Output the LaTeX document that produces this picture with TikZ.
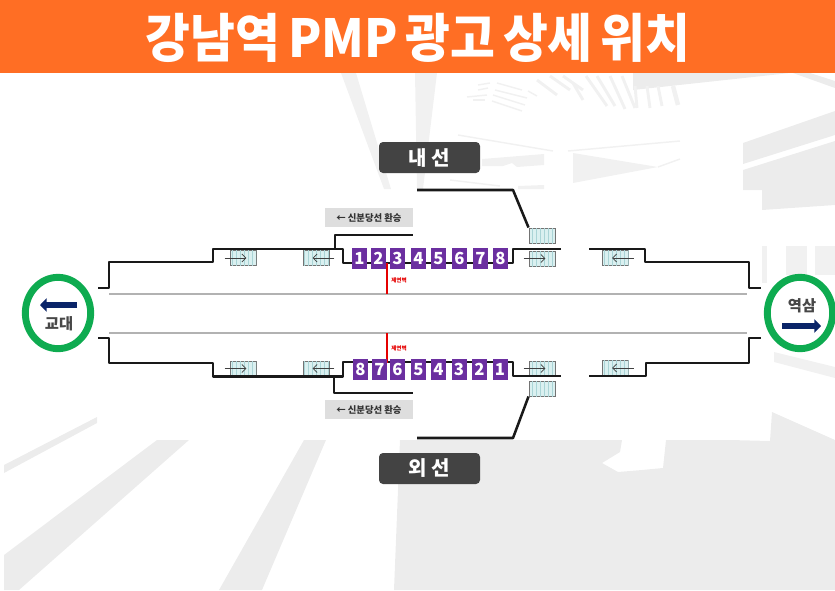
\documentclass[tikz,border=0pt]{standalone}
\usepackage{fontspec}
\setmainfont{Noto Sans CJK KR}
\newfontfamily\titlefont[FakeStretch=0.93,WordSpace=0.7]{Noto Sans CJK KR}
\usetikzlibrary{arrows.meta,patterns,shapes.geometric}

\definecolor{bandorange}{RGB}{255,110,36}
\definecolor{badgegrey}{RGB}{67,67,67}
\definecolor{labelgrey}{RGB}{222,222,222}
\definecolor{routepurple}{RGB}{107,47,160}
\definecolor{ringgreen}{RGB}{14,171,80}
\definecolor{arrownavy}{RGB}{10,36,104}
\definecolor{wmgrey}{RGB}{236,236,236}
\definecolor{wmlight}{RGB}{241,241,241}
\definecolor{esccyan}{RGB}{218,240,240}
\definecolor{escline}{RGB}{170,212,214}

\tikzset{
  wall/.style={line width=1.9pt,line join=round,black!90},
  track/.style={line width=0.9pt,black!30},
  redmark/.style={line width=1.5pt,red!90!black},
  redtext/.style={text=red!90!black,font=\bfseries\fontsize{4.2}{5}\selectfont,inner sep=0pt},
  escbox/.style={draw=black!55,line width=0.7pt,fill=esccyan,minimum width=19.5pt,minimum height=11.25pt,inner sep=0pt,
    postaction={pattern=vertical lines,pattern color=escline}},
  escarrow/.style={-{Straight Barb[length=3pt,width=6pt]},line width=0.6pt,black!75},
  spot/.style={fill=routepurple,text=white,minimum width=11.25pt,minimum height=15.75pt,inner sep=0pt,font=\bfseries\fontsize{12.5}{14}\selectfont},
  badge/.style={fill=badgegrey,text=white,rounded corners=3pt,minimum width=75.75pt,minimum height=23.25pt,inner sep=0pt,font=\bfseries\fontsize{15}{17}\selectfont},
  transfer/.style={fill=labelgrey,text=black!80,minimum width=66pt,minimum height=14.25pt,inner sep=0pt,font=\bfseries\fontsize{7}{8}\selectfont},
  ring/.style={draw=ringgreen,line width=5.2pt,fill=white,ellipse,minimum width=49pt,minimum height=53.5pt,inner sep=0pt},
  stationtext/.style={text=black!72,font=\bfseries\fontsize{11.5}{13}\selectfont,inner sep=0pt},
  navyarrow/.style={-{Triangle[length=5pt,width=10pt]},line width=4.5pt,arrownavy},
  wmstripe/.style={line width=2.2pt,wmlight},
  wmthin/.style={line width=1.1pt,wmlight},
}

\begin{document}
\begin{tikzpicture}[x=0.75pt,y=0.75pt,yscale=-1,xscale=1]
\useasboundingbox (0,0) rectangle (835,590);

%Watermark, lower part
\fill [wmgrey] (400,440) -- (622,440) -- (620,452) -- (602,463) -- (618,472) -- (642,470) -- (663,468) -- (666,440) -- (730,440) -- (770,441) -- (772,412) -- (835,440) -- (835,590) -- (394,590) -- cycle;
\fill [wmgrey] (304,440) -- (326,440) -- (262,590) -- (219,590) -- cycle;
\fill [wmgrey] (157,440) -- (189,440) -- (19,590) -- (4,590) -- (4,555) -- cycle;
\fill [wmgrey] (97,417) -- (97,423) -- (4,473) -- (4,465) -- cycle;
%Watermark, poles
\fill [wmlight] (341,73) -- (356,73) -- (391,189) -- (384,189) -- cycle;
\fill [wmlight] (415,73) -- (437,73) -- (423,189) -- (417,189) -- cycle;
%Watermark, right building
\fill [wmgrey] (743,143) -- (835,111) -- (835,135) -- (743,164) -- cycle;
\fill [wmgrey] (743,170) -- (835,141) -- (835,205) -- (762,210) -- (762,190) -- (743,190) -- cycle;
\fill [wmgrey] (633,73) -- (790,73) -- (633,90) -- cycle;
\fill [wmgrey] (793,73) -- (810,73) -- (835,81) -- (835,88) -- cycle;
%Watermark, roof
\draw [wmthin] (458,135) -- (553,151);
\draw [wmthin] (568,151) -- (680,141);
\draw [wmthin] (450,180) -- (500,186);
\draw [wmthin] (658,167) -- (680,159);
\fill [wmlight] (482,159) -- (544,154) -- (544,165) -- (517,167) -- (512,163) -- (503,166) -- (482,166) -- cycle;
\fill [wmlight] (573,153) -- (658,167) -- (573,183) -- cycle;
\fill [wmlight] (518,186) -- (544,185) -- (544,189) -- (518,189) -- cycle;
%Watermark, ceiling stripes
\draw [wmstripe] (586,76) -- (607,106);
\draw [wmstripe] (573,83) -- (583,100);
\draw [wmstripe] (597,76) -- (615,106);
\draw [wmstripe] (610,76) -- (625,109);
\draw [wmstripe] (622,76) -- (635,108);
\draw [wmstripe] (635,86) -- (637,108);
\draw [wmstripe] (647,86) -- (650,108);
\draw [wmstripe] (658,86) -- (662,106);
\draw [line width=3.4pt,wmlight] (673,86) -- (678,105);
\draw [wmstripe] (537,80) -- (557,95);
\draw [wmstripe] (550,76) -- (570,90);
\draw [wmstripe] (563,76) -- (583,90);
%Watermark, ceiling fan
\draw [wmthin] (478,85) -- (490,83);
\draw [wmthin] (478,90) -- (488,88);
\draw [wmthin] (467,97) -- (487,95);
\draw [wmthin] (473,100) -- (485,100);
\draw [wmthin] (497,83) -- (522,90);
\draw [wmthin] (495,90) -- (527,98);
\draw [wmthin] (493,95) -- (525,105);
\draw [wmthin] (492,101) -- (522,111);
\draw [wmthin] (528,91) -- (537,96);
%Watermark, right edge
\fill [wmlight] (762,246) rectangle (767,283);
\fill [wmlight] (786,246) rectangle (807,275);
\fill [wmlight] (815,246) rectangle (835,275);
\fill [wmlight] (774,352) -- (835,367) -- (835,378) -- (774,362) -- cycle;

%Title band
\fill [bandorange] (0,0) rectangle (835,73);
% Text Node
\node [text=white,font=\titlefont\bfseries\fontsize{39.3}{42}\selectfont,inner sep=0pt] (title) at (418,38) {강남역 PMP 광고 상세 위치};

%Tracks
\draw [track] (109,294) -- (747,294);
\draw [track] (109,333) -- (747,333);

%Escalators
\node [escbox] (escUa) at (243,258) {};
\node [escbox] (escUb) at (316,258) {};
\node [escbox] (escUc) at (542,258.5) {};
\node [escbox] (escUd) at (615.5,258) {};
\node [escbox] (escLa) at (243,368.5) {};
\node [escbox] (escLb) at (316,368.5) {};
\node [escbox] (escLc) at (542,368.5) {};
\node [escbox] (escLd) at (615.5,368) {};
\draw [escarrow] ([xshift=-3.75pt]escUa.west) -- ([xshift=-7.5pt]escUa.east);
\draw [escarrow] ([xshift=3.75pt]escUb.east) -- ([xshift=7.5pt]escUb.west);
\draw [escarrow] ([xshift=-3.75pt]escUc.west) -- ([xshift=-7.5pt]escUc.east);
\draw [escarrow] ([xshift=3.75pt]escUd.east) -- ([xshift=7.5pt]escUd.west);
\draw [escarrow] ([xshift=-3.75pt]escLa.west) -- ([xshift=-7.5pt]escLa.east);
\draw [escarrow] ([xshift=3.75pt]escLb.east) -- ([xshift=7.5pt]escLb.west);
\draw [escarrow] ([xshift=-3.75pt]escLc.west) -- ([xshift=-7.5pt]escLc.east);
\draw [escarrow] ([xshift=3.75pt]escLd.east) -- ([xshift=7.5pt]escLd.west);

%Upper wall
\draw [wall] (98,288) -- (109,288) -- (109,262) -- (213,262) -- (213,249) -- (343,249) -- (343,263) -- (513,263) -- (513,249) -- (561,249);
\draw [wall] (589,249) -- (645,249) -- (645,262) -- (749,262) -- (749,288) -- (761,288);
%Lower wall
\draw [wall] (98,338) -- (109,338) -- (109,363) -- (213,363) -- (213,376.5) -- (343,376.5) -- (343,362) -- (513,362) -- (513,376) -- (561,376);
\draw [wall] (589,376) -- (646,376) -- (646,363) -- (749,363) -- (749,338) -- (761,338);

%Stairs
\node [escbox] (stairsIn) at (542,235.5) {};
\node [escbox] (stairsOut) at (542,388.5) {};
\coordinate (inEnd) at (417,190);
\coordinate (inBend) at (513,190);
\coordinate (outEnd) at (417,438);
\coordinate (outBend) at (513,438);
\draw [wall] (inEnd) -- (inBend) -- (stairsIn.north west);
\draw [wall] (outEnd) -- (outBend) -- (stairsOut.south west);

%Transfer corridors
\draw [wall] (335,249) -- (335,235) -- (413,235);
\draw [wall] (334,377) -- (334,393) -- (413,393);
% Text Node
\node [transfer] (transferUp) at (369,217.5) {← 신분당선 환승};
\node [transfer] (transferLow) at (369,409.5) {← 신분당선 환승};

%Red marks
\coordinate (redUp) at (387,263);
\coordinate (redUpEnd) at (387,294);
\coordinate (redLow) at (387,363);
\coordinate (redLowEnd) at (387,333);
\draw [redmark] (redUp) -- (redUpEnd);
\draw [redmark] (redLow) -- (redLowEnd);
\node [redtext] (redUpText) at (399,280.5) {제연벽};
\node [redtext] (redLowText) at (399,348) {제연벽};

%Upper spots
\node [spot] (u1) at (359.5,258.5) {1};
\node [spot] (u2) at (378.5,258.5) {2};
\node [spot] (u3) at (397.5,258.5) {3};
\node [spot] (u4) at (418.5,258.5) {4};
\node [spot] (u5) at (438.5,258.5) {5};
\node [spot] (u6) at (459.5,258.5) {6};
\node [spot] (u7) at (480.5,258.5) {7};
\node [spot] (u8) at (500.5,258.5) {8};
%Lower spots
\node [spot] (l8) at (360.5,369.5) {8};
\node [spot] (l7) at (379.5,369.5) {7};
\node [spot] (l6) at (397.5,369.5) {6};
\node [spot] (l5) at (418.5,369.5) {5};
\node [spot] (l4) at (438.5,369.5) {4};
\node [spot] (l3) at (459,369.5) {3};
\node [spot] (l2) at (479.5,369.5) {2};
\node [spot] (l1) at (500,369.5) {1};

%Line badges
\node [badge] (inner) at (429.5,157.5) {내 선};
\node [badge] (outer) at (429.5,468.5) {외 선};

%Stations
\node [ring] (gyodae) at (58,313) {};
\node [ring] (yeoksam) at (800,313) {};
\node [stationtext] (gyodaeText) at (59,324) {교대};
\node [stationtext] (yeoksamText) at (802,306) {역삼};
\coordinate (gyodaeTail) at (77,305);
\coordinate (gyodaeTip) at (40,305);
\coordinate (yeoksamTail) at (782,326);
\coordinate (yeoksamTip) at (821,326);
\draw [navyarrow] (gyodaeTail) -- (gyodaeTip);
\draw [navyarrow] (yeoksamTail) -- (yeoksamTip);
\end{tikzpicture}
\end{document}
